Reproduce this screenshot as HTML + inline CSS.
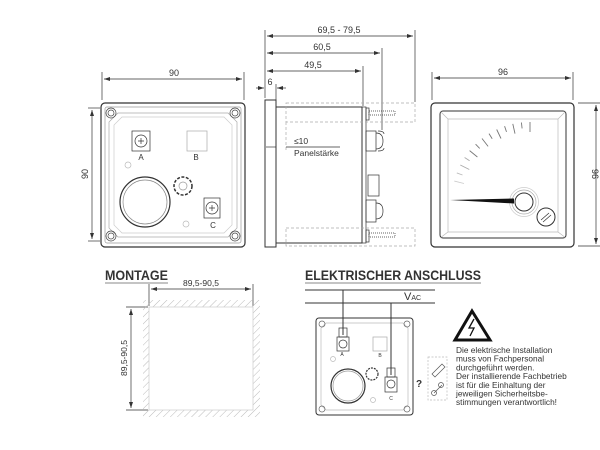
<!DOCTYPE html>
<html><head><meta charset="utf-8"><style>
body{margin:0;background:#fff}
svg{display:block}
text{font-family:"Liberation Sans",sans-serif;fill:#333}
</style></head><body>
<svg width="600" height="450" viewBox="0 0 600 450" xmlns="http://www.w3.org/2000/svg">
<defs>
<marker id="a" markerWidth="6" markerHeight="6" refX="6" refY="3" orient="auto-start-reverse" markerUnits="userSpaceOnUse"><path d="M0,1 L6,3 L0,5z" fill="#333"/></marker>
<pattern id="h" width="5" height="5" patternUnits="userSpaceOnUse" patternTransform="rotate(45)"><line x1="0" y1="0" x2="0" y2="5" stroke="#bbb" stroke-width="1"/></pattern>
</defs>
<g stroke="#333" fill="none" stroke-width="0.7">
<!-- LEFT VIEW -->
<line x1="102" y1="72" x2="102" y2="100"/><line x1="244" y1="72" x2="244" y2="100"/>
<line x1="104" y1="79" x2="242" y2="79" marker-start="url(#a)" marker-end="url(#a)"/>
<line x1="88" y1="108" x2="100" y2="108"/><line x1="88" y1="241" x2="100" y2="241"/>
<line x1="92" y1="110" x2="92" y2="239" marker-start="url(#a)" marker-end="url(#a)"/>
<rect x="101" y="103" width="144" height="144" rx="4" stroke-width="1.2"/>
<rect x="105" y="107" width="136" height="136" rx="2" stroke="#999"/>
<path d="M118,113 H228 L237,122 V228 L228,237 H118 L109,228 V122 Z" stroke="#aaa"/>
<path d="M122,117 H224 L232,125 V225 L224,233 H122 L114,225 V125 Z" stroke="#ccc"/>
<g stroke="#444"><circle cx="111" cy="113" r="5"/><circle cx="111" cy="113" r="3"/><circle cx="235" cy="113" r="5"/><circle cx="235" cy="113" r="3"/><circle cx="111" cy="236" r="5"/><circle cx="111" cy="236" r="3"/><circle cx="235" cy="236" r="5"/><circle cx="235" cy="236" r="3"/></g>
<rect x="132" y="131" width="18" height="20"/><circle cx="141" cy="141" r="6"/><path d="M138,141h6M141,138v6"/>
<rect x="187" y="131" width="20" height="20" stroke="#aaa"/>
<circle cx="128" cy="165" r="3" stroke="#bbb"/><circle cx="186" cy="224" r="3" stroke="#bbb"/>
<circle cx="145" cy="202" r="25" stroke-width="1.2"/><circle cx="145" cy="202" r="22" stroke="#888"/>
<circle cx="183" cy="186" r="9" stroke-dasharray="3 1.5" stroke-width="1.5"/><circle cx="183" cy="186" r="4" stroke="#999"/>
<rect x="204" y="198" width="16" height="20"/><circle cx="212" cy="208" r="6"/><path d="M209,208h6M212,205v6"/>
<!-- SIDE VIEW -->
<line x1="265" y1="30" x2="265" y2="98"/>
<line x1="415" y1="30" x2="415" y2="102"/><line x1="382" y1="48" x2="382" y2="130"/><line x1="363" y1="66" x2="363" y2="106"/>
<line x1="267" y1="36" x2="413" y2="36" marker-start="url(#a)" marker-end="url(#a)"/>
<line x1="267" y1="53" x2="380" y2="53" marker-start="url(#a)" marker-end="url(#a)"/>
<line x1="267" y1="71" x2="361" y2="71" marker-start="url(#a)" marker-end="url(#a)"/>
<line x1="276" y1="84" x2="276" y2="100"/>
<line x1="256" y1="88" x2="264" y2="88" marker-end="url(#a)"/><line x1="286" y1="88" x2="277" y2="88" marker-end="url(#a)"/>
<rect x="265" y="100" width="11" height="147" stroke-width="1"/>
<rect x="276" y="107" width="86" height="136" stroke-width="1"/>
<rect x="362" y="107" width="4" height="136"/>
<g stroke="#aaa" stroke-dasharray="3 2"><rect x="286" y="103" width="129" height="19"/><rect x="286" y="228" width="129" height="18"/><line x1="286" y1="122" x2="286" y2="150"/></g>
<line x1="266" y1="147" x2="276" y2="147"/><line x1="286" y1="147" x2="340" y2="147"/>
<rect x="366" y="108" width="3" height="12"/><rect x="369" y="111" width="26" height="4" stroke-dasharray="1 1"/>
<rect x="366" y="230" width="3" height="12"/><rect x="369" y="233" width="26" height="4" stroke-dasharray="1 1"/>
<rect x="366" y="131" width="10" height="20"/><path d="M376,133 q7,0 7,8 q0,8 -7,8"/><path d="M378,131 q6,0 6,3 M378,151 q6,0 6,-3"/>
<rect x="368" y="175" width="11" height="21"/>
<rect x="366" y="200" width="10" height="22"/><path d="M376,203 q7,0 7,8 q0,8 -7,8"/>
<!-- RIGHT VIEW -->
<line x1="432" y1="72" x2="432" y2="100"/><line x1="573" y1="72" x2="573" y2="100"/>
<line x1="434" y1="78" x2="571" y2="78" marker-start="url(#a)" marker-end="url(#a)"/>
<line x1="578" y1="103" x2="600" y2="103"/><line x1="578" y1="246" x2="600" y2="246"/>
<line x1="596" y1="105" x2="596" y2="244" marker-start="url(#a)" marker-end="url(#a)"/>
<rect x="431" y="103" width="143" height="144" rx="4" stroke-width="1.2"/>
<rect x="440" y="111" width="126" height="127" rx="3" stroke-width="1"/>
<path d="M440,111 l8,8 h110 l8,-8 M440,238 l8,-6 h110 l8,6 M448,119 v113 M558,119 v113" stroke="#bbb"/>
<circle cx="524" cy="202" r="9" stroke-width="1"/><circle cx="524" cy="202" r="12" stroke="#aaa"/><circle cx="524" cy="202" r="14.5" stroke="#ccc"/>
<circle cx="546" cy="217" r="9" stroke-width="1"/><path d="M541,220 l8,-7 M543,222 l8,-7"/>
<!-- MONTAGE -->
<line x1="105" y1="283" x2="168" y2="283" stroke="#888" stroke-width="1"/>
<line x1="149" y1="284" x2="149" y2="306"/><line x1="253" y1="284" x2="253" y2="306"/>
<line x1="151" y1="289" x2="251" y2="289" marker-start="url(#a)" marker-end="url(#a)"/>
<line x1="126" y1="307" x2="148" y2="307"/><line x1="126" y1="410" x2="148" y2="410"/>
<line x1="131" y1="309" x2="131" y2="408" marker-start="url(#a)" marker-end="url(#a)"/>
<path d="M143,300 H260 V417 H143 Z M149,307 V410 H253 V307 Z" fill="url(#h)" fill-rule="evenodd" stroke="none"/>
<rect x="149" y="307" width="104" height="103" stroke="#ccc" fill="#fff"/>
<!-- ELEKTRISCHER -->
<line x1="305" y1="283" x2="481" y2="283" stroke="#888" stroke-width="1"/>
<line x1="305" y1="290" x2="435" y2="290" stroke-width="1"/><line x1="305" y1="303" x2="435" y2="303" stroke-width="1"/>
<rect x="316" y="318" width="97" height="97" rx="3" stroke-width="1"/>
<path d="M326,323 H403 L408,328 V405 L403,410 H326 L321,405 V328 Z" stroke="#bbb"/>
<g stroke="#666"><circle cx="322" cy="324" r="3"/><circle cx="407" cy="324" r="3"/><circle cx="322" cy="409" r="3"/><circle cx="407" cy="409" r="3"/></g>
<line x1="343" y1="290" x2="343" y2="335" stroke-width="1"/>
<rect x="339" y="328" width="8" height="9"/><rect x="337" y="337" width="12" height="14"/><circle cx="343" cy="344" r="4"/>
<rect x="373" y="337" width="14" height="14" stroke="#aaa"/>
<circle cx="333" cy="359" r="2.5" stroke="#bbb"/><circle cx="373" cy="400" r="2.5" stroke="#bbb"/>
<circle cx="348" cy="386" r="17" stroke-width="1.2"/><circle cx="348" cy="386" r="15" stroke="#999"/>
<circle cx="372" cy="374" r="6" stroke-dasharray="2 1" stroke-width="1.2"/>
<line x1="391" y1="303" x2="391" y2="375" stroke-width="1"/>
<rect x="387" y="368" width="8" height="9"/><rect x="385" y="377" width="12" height="15"/><circle cx="391" cy="384" r="4"/>
<rect x="428" y="357" width="19" height="43" stroke="#bbb" stroke-dasharray="2 1.5"/>
<path d="M432,374 l10,-10 l3,3 l-10,10z" stroke="#555"/><path d="M434,393 l8,-8" stroke="#555"/><circle cx="441" cy="385" r="2.5" stroke="#555"/><circle cx="434" cy="393" r="2.5" stroke="#555"/>
<path d="M472,311 L490,340 H455 Z" stroke-width="3" stroke-linejoin="miter" stroke="#111"/>
<path d="M474,319 L469,328 H474 L470,336" stroke="#111" stroke-width="1.3"/>
</g>
<path d="M450,200 L514,198.5 L514,203.5 Z" fill="#111"/>
<!-- texts -->
<text x="174" y="76" font-size="9" text-anchor="middle">90</text>
<text transform="translate(88,174) rotate(-90)" font-size="9" text-anchor="middle">90</text>
<text x="141" y="160" font-size="8" text-anchor="middle" fill="#555">A</text>
<text x="196" y="160" font-size="8" text-anchor="middle" fill="#999">B</text>
<text x="213" y="228" font-size="8" text-anchor="middle" fill="#555">C</text>
<text x="339" y="33" font-size="9" text-anchor="middle">69,5 - 79,5</text>
<text x="322" y="50" font-size="9" text-anchor="middle">60,5</text>
<text x="313" y="68" font-size="9" text-anchor="middle">49,5</text>
<text x="270" y="85" font-size="9" text-anchor="middle">6</text>
<text x="294" y="144" font-size="8.5">≤10</text>
<text x="294" y="156" font-size="8.5">Panelstärke</text>
<text x="503" y="75" font-size="9" text-anchor="middle">96</text>
<text transform="translate(592,174) rotate(90)" font-size="9" text-anchor="middle">96</text>
<text x="105" y="280" font-size="13.5" font-weight="bold" fill="#222" textLength="63" lengthAdjust="spacingAndGlyphs">MONTAGE</text>
<text x="201" y="286" font-size="8.5" text-anchor="middle">89,5-90,5</text>
<text transform="translate(127,358) rotate(-90)" font-size="8.5" text-anchor="middle">89,5-90,5</text>
<text x="305" y="280" font-size="13.5" font-weight="bold" fill="#222" textLength="176" lengthAdjust="spacingAndGlyphs">ELEKTRISCHER ANSCHLUSS</text>
<text x="404" y="300" font-size="11">V<tspan font-size="7">AC</tspan></text>
<text x="342" y="356" font-size="5" fill="#999" text-anchor="middle">A</text>
<text x="380" y="357" font-size="5" fill="#999" text-anchor="middle">B</text>
<text x="391" y="400" font-size="5" fill="#999" text-anchor="middle">C</text>
<text x="416" y="387" font-size="10" font-weight="bold" fill="#222">?</text>
<g font-size="8.3" fill="#333">
<text x="456" y="353">Die elektrische Installation</text>
<text x="456" y="361.7">muss von Fachpersonal</text>
<text x="456" y="370.4">durchgeführt werden.</text>
<text x="456" y="379.1">Der installierende Fachbetrieb</text>
<text x="456" y="387.8">ist für die Einhaltung der</text>
<text x="456" y="396.5">jeweiligen Sicherheitsbe-</text>
<text x="456" y="405.2">stimmungen verantwortlich!</text>
</g>
<g stroke="#777" stroke-width="0.9">
<line x1="454.3" y1="181.1" x2="464.0" y2="183.5" stroke="#ccc"/>
<line x1="456.8" y1="172.9" x2="462.5" y2="175.0" stroke="#bbb"/>
<line x1="460.3" y1="165.0" x2="469.3" y2="169.5" stroke="#aaa"/>
<line x1="464.6" y1="157.5" x2="469.6" y2="160.8" stroke="#aaa"/>
<line x1="469.6" y1="150.6" x2="477.4" y2="157.0"/>
<line x1="475.6" y1="144.2" x2="479.7" y2="148.4"/>
<line x1="482.0" y1="138.5" x2="488.1" y2="146.4"/>
<line x1="489.0" y1="133.6" x2="492.2" y2="138.7"/>
<line x1="496.7" y1="129.5" x2="501.0" y2="138.5"/>
<line x1="504.6" y1="126.2" x2="506.5" y2="131.9"/>
<line x1="512.8" y1="123.9" x2="515.0" y2="133.6"/>
<line x1="521.4" y1="122.5" x2="522.1" y2="128.4"/>
<line x1="530" y1="122" x2="530" y2="132"/>
</g>
</svg>
</body></html>
